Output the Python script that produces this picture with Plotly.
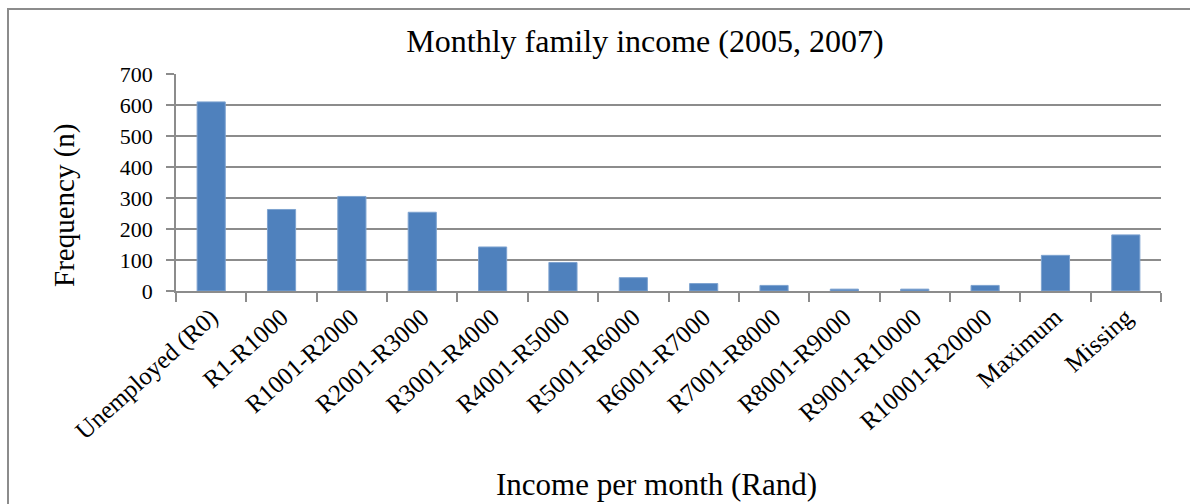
import plotly.graph_objects as go

categories = ["Unemployed (R0)", "R1-R1000", "R1001-R2000", "R2001-R3000", "R3001-R4000",
              "R4001-R5000", "R5001-R6000", "R6001-R7000", "R7001-R8000", "R8001-R9000",
              "R9001-R10000", "R10001-R20000", "Maximum", "Missing"]
frequency = [610, 263, 305, 254, 142, 92, 43, 24, 18, 6, 6, 18, 115, 181]
y_ticks = [0, 100, 200, 300, 400, 500, 600, 700]

FONT = "Liberation Serif, Times New Roman, serif"
W, H = 1190, 504
L, R, T, B = 176, 29, 74, 213
pw, ph = W - L - R, H - T - B

fig = go.Figure(go.Bar(
    x=categories, y=frequency,
    marker=dict(color="#4F81BD", line=dict(color="#7EA3D0", width=1)),
    width=0.4,
))

fig.update_layout(
    width=W, height=H,
    margin=dict(l=L, r=R, t=T, b=B, autoexpand=False),
    paper_bgcolor="white", plot_bgcolor="white",
    font=dict(family=FONT, color="black", size=21),
    showlegend=False,
    title=dict(text="Monthly family income (2005, 2007)", x=645 / W, xanchor="center",
               y=1 - 41 / H, yanchor="middle", yref="container",
               font=dict(family=FONT, size=32, color="black")),
    xaxis=dict(
        type="category", tickangle=-42, tickson="boundaries",
        ticks="outside", ticklen=9, tickcolor="#8c8c8c", tickwidth=1.5,
        showline=True, linecolor="#8c8c8c", linewidth=1.5,
        showgrid=False, tickfont=dict(size=25, family=FONT, color="black"),
        title=None,
    ),
    yaxis=dict(
        range=[0, 700], tickvals=y_ticks, ticks="outside", ticklen=8,
        tickcolor="#8c8c8c", tickwidth=1.5,
        showline=True, linecolor="#8c8c8c", linewidth=1.5,
        showgrid=True, gridcolor="#8c8c8c", gridwidth=1.5,
        tickfont=dict(size=22, family=FONT, color="black"), ticklabelstandoff=9,
        zeroline=False, title=None,
    ),
)

# x-axis title
fig.add_annotation(text="Income per month (Rand)", xref="paper", yref="paper",
                   x=(656 - L) / pw, y=-(484 - (T + ph)) / ph, showarrow=False,
                   xanchor="center", yanchor="middle", borderpad=0,
                   font=dict(family=FONT, size=31, color="black"))
# y-axis title
fig.add_annotation(text="Frequency (n)", xref="paper", yref="paper",
                   x=(64 - L) / pw, y=1 - (206 - T) / ph, showarrow=False,
                   textangle=-90, xanchor="center", yanchor="middle",
                   font=dict(family=FONT, size=29, color="black"))
# outer chart border
fig.add_shape(type="rect", xref="paper", yref="paper",
              x0=(8 - L) / pw, x1=(1200 - L) / pw,
              y0=1 + (T - 9) / ph, y1=-(520 - T - ph) / ph,
              line=dict(color="#8c8c8c", width=2), layer="below")

fig.write_html("out.html")
